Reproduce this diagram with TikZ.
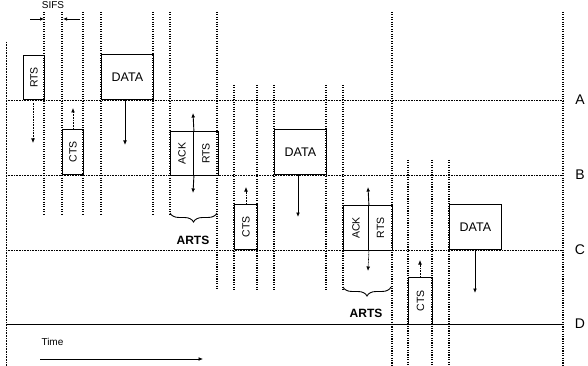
\documentclass[tikz,border=0pt]{standalone}
\usepackage{fontspec}
\setmainfont{Liberation Sans}
\usetikzlibrary{decorations.pathreplacing,arrows.meta}
\begin{document}
\begin{tikzpicture}[x=1pt,y=-1pt,
  vline/.style={line width=1.1pt, dash pattern=on 1.1pt off 1.3pt},
  hline/.style={line width=0.6pt, dash pattern=on 0.9pt off 0.7pt},
  pkt/.style={draw, line width=0.9pt, inner sep=0pt, anchor=north west, font=\fontsize{10.5}{12}\selectfont},
  dpkt/.style={pkt, font=\fontsize{12.5}{14}\selectfont},
  arr/.style={line width=0.9pt, -{Latex[length=4.5pt,width=3.8pt]}},
  darr/.style={line width=0.7pt, dash pattern=on 1pt off 0.6pt, -{Latex[length=4.5pt,width=3.8pt]}},
  lbl/.style={font=\fontsize{14}{16}\selectfont},
  arts/.style={font=\bfseries\fontsize{12}{14}\selectfont},
  brc/.style={decorate, decoration={brace, mirror, amplitude=9pt}, line width=0.9pt}
]
\useasboundingbox (0,0) rectangle (588,366);

% station lines
\draw[hline] (6,100) -- (563,100);
\draw[hline] (6,175) -- (563,175);
\draw[hline] (6,250) -- (563,250);
\draw[line width=1pt] (6,324) -- (563,324);
\draw[line width=0.6pt, dash pattern=on 0.9pt off 0.7pt] (6,42) -- (6,366);

\node[lbl] (la) at (580,100) {A};
\node[lbl] (lb) at (580,175) {B};
\node[lbl] (lc) at (580,250) {C};
\node[lbl] (ld) at (580,324) {D};

% vertical slot lines
\foreach \x in {44,62,83,101,153,170} \draw[vline] (\x,12) -- (\x,214);
\draw[vline] (217,12) -- (217,290);
\foreach \x in {234,257,274,326,343} \draw[vline] (\x,85) -- (\x,290);
\foreach \x in {392,563} \draw[vline] (\x,12) -- (\x,366);
\foreach \x in {408,432,449} \draw[vline] (\x,160) -- (\x,366);

% SIFS
\node[font=\fontsize{10}{11}\selectfont] (sifs) at (53,5) {SIFS};
\coordinate (s1) at (30,19);
\coordinate (s2) at (80,19);
\draw[line width=0.7pt, -{Latex[length=4pt,width=3.5pt]}] (s1) -- (44,19);
\draw[line width=0.7pt, -{Latex[length=4pt,width=3.5pt]}] (s2) -- (63,19);

% first exchange
\node[pkt, minimum width=21pt, minimum height=44pt] (rts1) at (23,55) {\rotatebox{90}{RTS}};
\node[dpkt, minimum width=52pt, minimum height=45pt] (data1) at (101,54) {DATA};
\node[pkt, minimum width=21pt, minimum height=45pt] (cts1) at (62,129) {\rotatebox{90}{CTS}};
\coordinate (r1e) at (33,143);
\draw[darr] (rts1.south -| r1e) ++(0,3) -- (r1e);
\coordinate (c1e) at (73,108);
\draw[darr] (cts1.north -| c1e) -- (c1e);
\coordinate (d1e) at (125,145);
\draw[arr] (data1.south -| d1e) -- (d1e);

% second exchange
\node[pkt, minimum width=23pt, minimum height=44pt] (ack1) at (170,131) {\rotatebox{90}{ACK}};
\node[pkt, minimum width=25pt, minimum height=44pt] (art1) at (193,131) {\rotatebox{90}{RTS}};
\coordinate (a1u) at (193,113);
\coordinate (a1d) at (193,193);
\draw[arr] (ack1.north east) -- (a1u);
\draw[arr] (ack1.south east) -- (a1d);
\draw[brc] (170,213) -- (217,213);
\node[arts] (arts1) at (193,240) {ARTS};
\node[pkt, minimum width=23pt, minimum height=45pt] (cts2) at (234,204) {\rotatebox{90}{CTS}};
\coordinate (c2e) at (246,187);
\draw[darr] (cts2.north -| c2e) -- (c2e);
\node[dpkt, minimum width=52pt, minimum height=45pt] (data2) at (274,129) {DATA};
\coordinate (d2e) at (298,217);
\draw[arr] (data2.south -| d2e) -- (d2e);

% third exchange
\node[pkt, minimum width=25pt, minimum height=45pt] (ack2) at (343,205) {\rotatebox{90}{ACK}};
\node[pkt, minimum width=24pt, minimum height=45pt] (art2) at (368,205) {\rotatebox{90}{RTS}};
\coordinate (a2u) at (368,187);
\coordinate (a2d) at (368,271);
\draw[arr] (ack2.north east) -- (a2u);
\draw[darr] (ack2.south east) -- (a2d);
\draw[brc] (343,287) -- (391,287);
\node[arts] (arts2) at (366,313) {ARTS};
\node[pkt, minimum width=24pt, minimum height=47pt] (cts3) at (408,277) {\rotatebox{90}{CTS}};
\coordinate (c3e) at (420,260);
\draw[darr] (cts3.north -| c3e) -- (c3e);
\node[dpkt, minimum width=52pt, minimum height=45pt] (data3) at (449,204) {DATA};
\coordinate (d3e) at (475,293);
\draw[arr] (data3.south -| d3e) -- (d3e);

% time axis
\node[font=\fontsize{10}{11}\selectfont, anchor=west] (time) at (38,342) {Time};
\coordinate (t0) at (40,359);
\coordinate (t1) at (203,359);
\draw[line width=0.7pt, -{Latex[length=4.5pt,width=3.8pt]}] (t0) -- (t1);
\end{tikzpicture}
\end{document}
